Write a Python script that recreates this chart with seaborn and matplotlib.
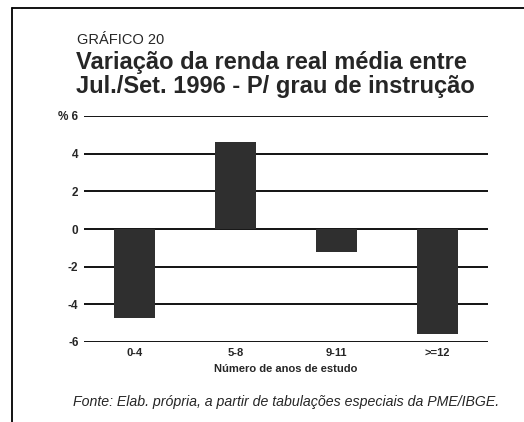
#!/usr/bin/env python
"""Bar chart: variacao da renda real media por grau de instrucao."""
import matplotlib
matplotlib.use('Agg')
import matplotlib.pyplot as plt
from matplotlib.lines import Line2D
import seaborn as sb
import pandas as pd

# data
categories = ['0-4', '5-8', '9-11', '>=12']
variation = [-4.75, 4.6, -1.2, -5.6]
ytick_values = [-6, -4, -2, 0, 2, 4, 6]
ytick_labels = ['-6', '-4', '-2', '0', '2', '4', '% 6']

sb.set_style('white')
plt.rcParams['font.family'] = ['Liberation Sans', 'DejaVu Sans']

df = pd.DataFrame({'anos': categories, 'var': variation})

fig = plt.figure(figsize=(5.24, 4.22), dpi=100)
ax = fig.add_axes([84 / 524, 1 - 342 / 422, 404 / 524, (342 - 116) / 422])

# horizontal rules first, bars drawn on top of them
for v in ytick_values:
    ax.axhline(v, color='black', lw=1.3, zorder=1)

sb.barplot(x='anos', y='var', data=df, color='#2f2f2f', width=0.41,
           saturation=1, edgecolor='none', zorder=3, ax=ax)

ax.set_xlim(-0.5, 3.5)
ax.set_ylim(-6, 6)
ax.set_yticks(ytick_values)
ax.set_yticklabels(ytick_labels, fontsize=8.5, fontweight='bold')
ax.tick_params(axis='y', length=0, pad=4)
ax.tick_params(axis='x', length=0, pad=4)
for lab in ax.get_xticklabels():
    lab.set_fontsize(8)
    lab.set_fontweight('bold')
ax.set_xlabel('Número de anos de estudo', fontsize=8, fontweight='bold',
              labelpad=5)
ax.set_ylabel('')
for s in ax.spines.values():
    s.set_visible(False)

# headings and source
fig.text(77 / 524, 1 - 40 / 422, 'GRÁFICO 20', fontsize=10.5, va='center')
fig.text(76 / 524, 1 - 63 / 422, 'Variação da renda real média entre',
         fontsize=17, fontweight='bold', va='center')
fig.text(76 / 524, 1 - 86 / 422, 'Jul./Set. 1996 - P/ grau de instrução',
         fontsize=17, fontweight='bold', va='center')
fig.text(73 / 524, 1 - 402 / 422,
         'Fonte: Elab. própria, a partir de tabulações especiais da PME/IBGE.',
         fontsize=10.2, style='italic', va='center')

# frame of the page clipping
fig.add_artist(Line2D([12 / 524, 1], [1 - 8 / 422, 1 - 8 / 422],
                      transform=fig.transFigure, color='black', lw=1.3))
fig.add_artist(Line2D([12 / 524, 12 / 524], [0, 1 - 8 / 422],
                      transform=fig.transFigure, color='black', lw=1.3))

fig.savefig('out.png', dpi=100)
